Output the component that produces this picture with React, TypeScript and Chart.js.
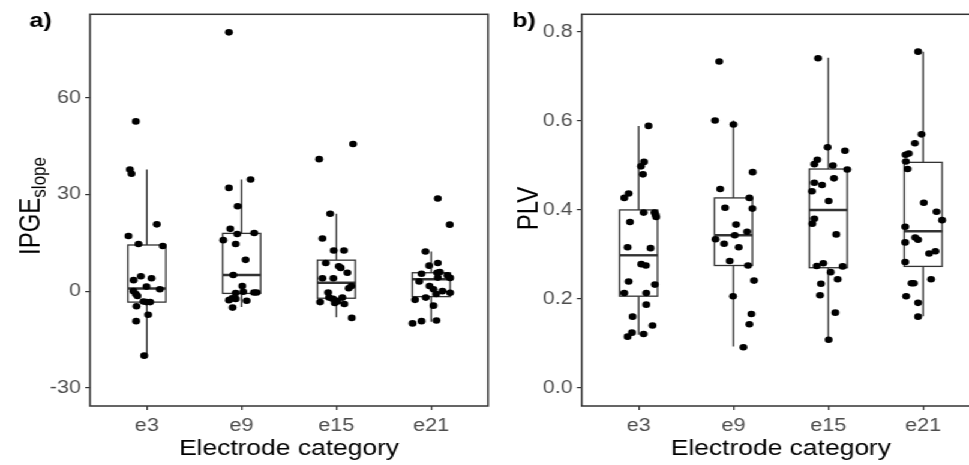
import React, { useEffect, useRef } from 'react';
import { Chart, registerables } from 'chart.js';

Chart.register(...registerables);

const STRETCH = 1.2;
const FONT = "'Liberation Sans', Arial, Helvetica, sans-serif";

const categories = ['e3', 'e9', 'e15', 'e21'];

// Panel a: IPGE slope values (jitter = horizontal offset in category units)
const ipgeE3 = [52.6, 37.7, 36.4, 20.7, 17.1, 14.6, 14.0, 4.6, 4.0, 3.4, 1.4, 0.6, 0.0, -0.9, -1.5, -3.2, -3.4, -3.4, -4.7, -7.3, -9.3, -20.0];
const ipgeE3Jit = [-0.116, -0.179, -0.162, 0.105, -0.194, -0.088, 0.168, -0.063, 0.049, -0.14, -0.004, 0.137, -0.141, -0.116, -0.099, -0.036, -0.004, 0.035, -0.109, 0.014, -0.113, -0.028];
const ipgeE9 = [80.2, 34.6, 32.0, 26.3, 19.3, 18.0, 17.7, 15.8, 14.6, 9.7, 5.0, 1.6, -0.6, -0.2, -0.4, -0.4, -2.2, -2.8, -2.4, -3.0, -5.1];
const ipgeE9Jit = [-0.134, 0.095, -0.134, -0.042, -0.12, 0.133, -0.046, -0.194, -0.063, 0.042, -0.088, 0.007, -0.063, 0.017, 0.13, 0.158, -0.1, -0.134, -0.063, 0.053, -0.095];
const ipgeE15 = [45.6, 40.9, 24.0, 16.3, 12.6, 12.6, 8.7, 7.7, 7.2, 5.7, 4.0, 4.0, 1.6, 0.9, -0.4, -2.0, -2.4, -3.0, -3.2, -3.7, -2.0, -3.4, -4.0, -8.3];
const ipgeE15Jit = [0.176, -0.182, -0.066, -0.147, -0.028, 0.08, -0.112, 0.025, 0.046, 0.116, -0.147, -0.032, 0.158, 0.13, -0.087, -0.077, -0.035, -0.011, 0.011, -0.017, 0.063, -0.172, 0.084, 0.162];
const ipgeE21 = [28.7, 20.6, 12.3, 8.7, 7.9, 5.9, 5.7, 5.4, 4.9, 4.2, 4.1, 3.0, 1.6, 0.6, 0.0, -0.5, -0.9, -2.0, -2.7, -4.5, -9.1, -9.3, -10.0];
const ipgeE21Jit = [0.07, 0.196, -0.06, 0.07, -0.021, 0.091, 0.063, -0.102, 0.171, 0.07, 0.2, -0.126, -0.018, 0.024, 0.119, 0.2, 0.053, -0.057, -0.17, 0.024, 0.056, -0.102, -0.196];

const ipgeLow = [-20.0, -4.9, -8.1, -9.5];
const ipgeQ1 = [-3.4, -0.7, -2.2, -1.7];
const ipgeMed = [0.8, 5.0, 2.6, 3.7];
const ipgeQ3 = [14.3, 17.9, 9.6, 5.7];
const ipgeHigh = [37.7, 34.6, 24.0, 12.3];
const ipgeTicks = [-30, 0, 30, 60];

// Panel b: PLV values
const plvE3 = [0.589, 0.508, 0.498, 0.48, 0.437, 0.427, 0.394, 0.394, 0.389, 0.384, 0.373, 0.316, 0.314, 0.278, 0.275, 0.239, 0.232, 0.213, 0.213, 0.187, 0.16, 0.14, 0.124, 0.121, 0.115];
const plvE3Jit = [0.105, 0.057, 0.025, 0.046, -0.105, -0.151, 0.053, 0.168, 0.179, 0.186, -0.091, -0.116, 0.126, 0.028, 0.077, -0.105, 0.172, -0.151, 0.081, 0.081, -0.063, 0.147, -0.07, 0.053, -0.116];
const plvE9 = [0.734, 0.601, 0.592, 0.485, 0.447, 0.427, 0.405, 0.403, 0.367, 0.351, 0.343, 0.334, 0.324, 0.316, 0.285, 0.275, 0.241, 0.206, 0.166, 0.143, 0.091];
const plvE9Jit = [-0.15, -0.194, 0.0, 0.203, -0.14, 0.168, -0.088, 0.2, 0.028, 0.144, 0.014, -0.189, -0.098, 0.056, -0.039, 0.154, 0.217, -0.004, 0.189, 0.168, 0.105];
const plvE15 = [0.741, 0.541, 0.533, 0.513, 0.503, 0.5, 0.491, 0.471, 0.461, 0.456, 0.442, 0.42, 0.38, 0.369, 0.345, 0.28, 0.274, 0.273, 0.26, 0.244, 0.234, 0.208, 0.169, 0.108];
const plvE15Jit = [-0.108, -0.007, 0.176, -0.116, -0.147, 0.049, 0.2, 0.06, -0.147, -0.066, -0.172, 0.004, -0.147, -0.168, 0.084, -0.053, -0.122, 0.152, 0.025, 0.099, -0.077, -0.087, 0.074, 0.004];
const plvE21 = [0.756, 0.57, 0.55, 0.527, 0.524, 0.509, 0.492, 0.416, 0.396, 0.377, 0.362, 0.338, 0.333, 0.327, 0.307, 0.302, 0.283, 0.244, 0.235, 0.235, 0.206, 0.191, 0.16];
const plvE21Jit = [-0.053, -0.017, -0.087, -0.151, -0.185, -0.182, -0.164, 0.007, 0.141, 0.2, -0.189, -0.084, -0.053, -0.189, 0.13, 0.063, -0.189, 0.084, -0.122, -0.098, -0.179, -0.053, -0.053];

const plvLow = [0.119, 0.093, 0.108, 0.161];
const plvQ1 = [0.206, 0.275, 0.27, 0.273];
const plvMed = [0.298, 0.343, 0.4, 0.352];
const plvQ3 = [0.4, 0.427, 0.492, 0.507];
const plvHigh = [0.589, 0.601, 0.742, 0.756];
const plvTicks = [0, 0.2, 0.4, 0.6, 0.8];

function buildPoints(groups: number[][], jitters: number[][]) {
  const pts: { x: number; y: number }[] = [];
  groups.forEach((vals, i) => {
    vals.forEach((v, j) => pts.push({ x: i + 1 + jitters[i][j], y: v }));
  });
  return pts;
}

interface PanelCfg {
  points: { x: number; y: number }[];
  low: number[]; q1: number[]; med: number[]; q3: number[]; high: number[];
  yMin: number; yMax: number; yTicks: number[];
  fmt: (v: number) => string;
  plotLeft: number; plotRight: number; width: number;
  tag: string; tagX: number;
  drawYTitle: (ctx: CanvasRenderingContext2D) => void;
}

function makeChart(canvas: HTMLCanvasElement, cfg: PanelCfg) {
  const boxPlugin = {
    id: 'boxes',
    beforeDatasetsDraw(chart: any) {
      const { ctx, scales } = chart;
      const x = scales.x, y = scales.y;
      ctx.save();
      ctx.strokeStyle = '#333333';
      for (let i = 0; i < categories.length; i++) {
        const c = i + 1;
        const cx = x.getPixelForValue(c);
        const l = x.getPixelForValue(c - 0.2);
        const r = x.getPixelForValue(c + 0.2);
        const yl = y.getPixelForValue(cfg.low[i]);
        const y1 = y.getPixelForValue(cfg.q1[i]);
        const ym = y.getPixelForValue(cfg.med[i]);
        const y3 = y.getPixelForValue(cfg.q3[i]);
        const yh = y.getPixelForValue(cfg.high[i]);
        ctx.lineWidth = 1.3;
        ctx.beginPath();
        ctx.moveTo(cx, yh); ctx.lineTo(cx, y3);
        ctx.moveTo(cx, y1); ctx.lineTo(cx, yl);
        ctx.stroke();
        ctx.fillStyle = '#ffffff';
        ctx.fillRect(l, y3, r - l, y1 - y3);
        ctx.strokeRect(l, y3, r - l, y1 - y3);
        ctx.lineWidth = 2.4;
        ctx.beginPath();
        ctx.moveTo(l, ym); ctx.lineTo(r, ym);
        ctx.stroke();
      }
      ctx.restore();
    },
  };
  const decor = {
    id: 'decor',
    afterDraw(chart: any) {
      const { ctx, chartArea } = chart;
      ctx.save();
      ctx.strokeStyle = '#333333';
      ctx.lineWidth = 1.5;
      ctx.strokeRect(chartArea.left, chartArea.top, chartArea.right - chartArea.left, chartArea.bottom - chartArea.top);
      ctx.fillStyle = '#000000';
      ctx.font = `22px ${FONT}`;
      ctx.textAlign = 'center';
      ctx.textBaseline = 'alphabetic';
      ctx.fillText('Electrode category', (chartArea.left + chartArea.right) / 2, 455);
      ctx.font = `bold 21px ${FONT}`;
      ctx.textAlign = 'left';
      ctx.fillText(cfg.tag, cfg.tagX, 26.5);
      cfg.drawYTitle(ctx);
      ctx.restore();
    },
  };
  return new Chart(canvas, {
    type: 'scatter',
    data: {
      datasets: [{
        data: cfg.points,
        backgroundColor: '#000000',
        borderWidth: 0,
        pointRadius: 3.3,
        pointHoverRadius: 3.3,
      }],
    },
    options: {
      animation: false,
      responsive: false,
      events: [],
      layout: { padding: { left: 0, right: cfg.width - cfg.plotRight, top: 7, bottom: 0 } },
      plugins: { legend: { display: false }, tooltip: { enabled: false } },
      scales: {
        x: {
          type: 'linear',
          min: 0.4,
          max: 4.6,
          afterFit: (s: any) => { s.height = 59; },
          afterBuildTicks: (s: any) => { s.ticks = categories.map((_, i) => ({ value: i + 1 })); },
          ticks: {
            callback: (v: any) => categories[Math.round(Number(v)) - 1],
            color: '#4d4d4d',
            font: { family: FONT, size: 18 },
            padding: 5.5,
            maxRotation: 0,
            autoSkip: false,
          },
          grid: { drawOnChartArea: false, drawTicks: true, tickLength: 4, color: '#333333', lineWidth: 1.2 },
          border: { display: false },
        },
        y: {
          type: 'linear',
          min: cfg.yMin,
          max: cfg.yMax,
          afterFit: (s: any) => { s.width = cfg.plotLeft; },
          afterBuildTicks: (s: any) => { s.ticks = cfg.yTicks.map((v) => ({ value: v })); },
          ticks: {
            callback: (v: any) => cfg.fmt(Number(v)),
            color: '#4d4d4d',
            font: { family: FONT, size: 18 },
            padding: 3.5,
            autoSkip: false,
          },
          grid: { drawOnChartArea: false, drawTicks: true, tickLength: 4, color: '#333333', lineWidth: 1.2 },
          border: { display: false },
        },
      },
    },
    plugins: [boxPlugin, decor],
  } as any);
}

export default function App() {
  const refA = useRef<HTMLCanvasElement>(null);
  const refB = useRef<HTMLCanvasElement>(null);

  useEffect(() => {
    const chartA = makeChart(refA.current!, {
      points: buildPoints([ipgeE3, ipgeE9, ipgeE15, ipgeE21], [ipgeE3Jit, ipgeE9Jit, ipgeE15Jit, ipgeE21Jit]),
      low: ipgeLow, q1: ipgeQ1, med: ipgeMed, q3: ipgeQ3, high: ipgeHigh,
      yMin: -35.6, yMax: 85.8, yTicks: ipgeTicks,
      fmt: (v) => String(v),
      plotLeft: 75, plotRight: 407.5, width: 410,
      tag: 'a)', tagX: 24.5,
      drawYTitle: (ctx) => {
        ctx.save();
        ctx.translate(33, 206);
        ctx.rotate(-Math.PI / 2);
        ctx.fillStyle = '#000000';
        ctx.textBaseline = 'alphabetic';
        ctx.textAlign = 'left';
        ctx.font = `24px ${FONT}`;
        const w1 = ctx.measureText('IPGE').width;
        ctx.font = `17px ${FONT}`;
        const w2 = ctx.measureText('slope').width;
        const start = -(w1 + w2) / 2;
        ctx.font = `24px ${FONT}`;
        ctx.fillText('IPGE', start, 0);
        ctx.font = `17px ${FONT}`;
        ctx.fillText('slope', start + w1, 5);
        ctx.restore();
      },
    });
    const chartB = makeChart(refB.current!, {
      points: buildPoints([plvE3, plvE9, plvE15, plvE21], [plvE3Jit, plvE9Jit, plvE15Jit, plvE21Jit]),
      low: plvLow, q1: plvQ1, med: plvMed, q3: plvQ3, high: plvHigh,
      yMin: -0.041, yMax: 0.84, yTicks: plvTicks,
      fmt: (v) => v.toFixed(1),
      plotLeft: 74.75, plotRight: 406.7, width: 410,
      tag: 'b)', tagX: 16.7,
      drawYTitle: (ctx) => {
        ctx.save();
        ctx.translate(37.5, 208.5);
        ctx.rotate(-Math.PI / 2);
        ctx.fillStyle = '#000000';
        ctx.textBaseline = 'alphabetic';
        ctx.textAlign = 'center';
        ctx.font = `24px ${FONT}`;
        ctx.fillText('PLV', 0, 0);
        ctx.restore();
      },
    });
    return () => {
      chartA.destroy();
      chartB.destroy();
    };
  }, []);

  return (
    <div style={{ position: 'fixed', left: 0, top: 0, width: 969, height: 465, overflow: 'hidden', background: '#ffffff' }}>
      <div style={{ position: 'relative', width: 820, height: 465, transform: `scaleX(${STRETCH})`, transformOrigin: '0 0' }}>
        <canvas ref={refA} width={410} height={465} style={{ position: 'absolute', left: 0, top: 0, width: 410, height: 465 }} />
        <canvas ref={refB} width={410} height={465} style={{ position: 'absolute', left: 410, top: 0, width: 410, height: 465 }} />
      </div>
    </div>
  );
}
